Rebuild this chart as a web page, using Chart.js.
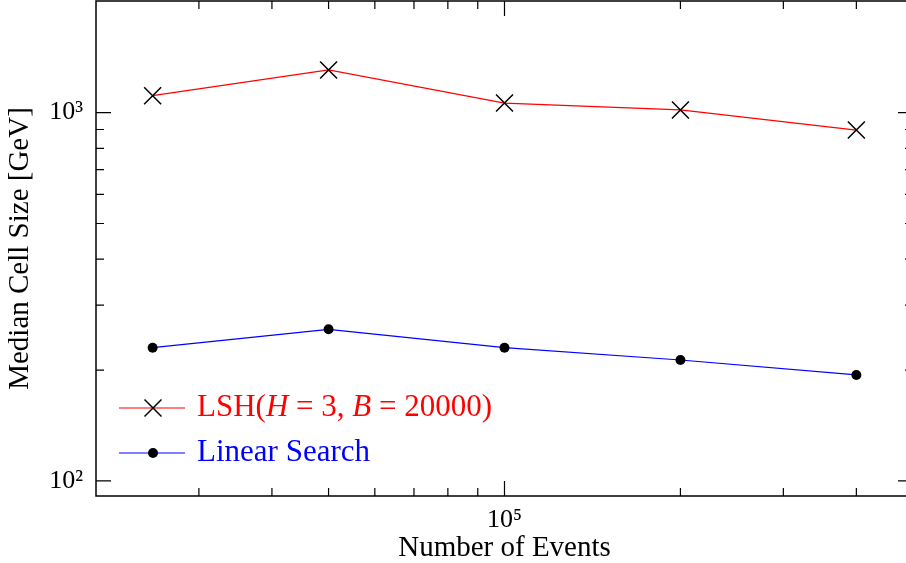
<!DOCTYPE html>
<html>
<head>
<meta charset="utf-8">
<script src="https://cdn.jsdelivr.net/npm/chart.js@4.4.0/dist/chart.umd.min.js"></script>
<style>
  html, body { margin: 0; padding: 0; overflow: hidden; background: #fff; }
  #wrap { width: 920px; height: 563px; }
</style>
</head>
<body>
<div id="wrap"><canvas id="chart" width="920" height="563"></canvas></div>
<script>
// data (log-log)
var numEvents = [25000, 50000, 100000, 200000, 400000];
var lshCellSize = [1112, 1306, 1062, 1017, 897];
var linearCellSize = [230, 258, 230, 213, 194];

var xTickValues = [30000, 40000, 50000, 60000, 70000, 80000, 90000, 100000, 200000, 300000, 400000];
var yTickValues = [100, 200, 300, 400, 500, 600, 700, 800, 900, 1000];

var serif = "'Liberation Serif', 'Times New Roman', serif";
var sup = {'0': '⁰', '1': '¹', '2': '²', '3': '³', '4': '⁴', '5': '⁵', '6': '⁶', '7': '⁷', '8': '⁸', '9': '⁹'};

function isPow10(v) {
    var l = Math.log10(v);
    return Math.abs(l - Math.round(l)) < 1e-9;
}

function tickLabel(value) {
    if (!isPow10(value)) return '';
    var e = String(Math.round(Math.log10(value)));
    return '10' + e.split('').map(function (d) { return sup[d]; }).join('');
}

function toPoints(xs, ys) {
    return xs.map(function (x, i) { return {x: x, y: ys[i]}; });
}

function noEdgePadding(scale) {
    scale.paddingTop = 0;
    scale.paddingBottom = 0;
    scale.paddingLeft = 0;
    scale.paddingRight = 0;
}

// frame with inward ticks on all four sides
var frameTicks = {
    id: 'frameTicks',
    beforeDatasetsDraw: function (chart) {
        var ctx = chart.ctx, a = chart.chartArea;
        var xs = chart.scales.x, ys = chart.scales.y;
        ctx.save();
        ctx.strokeStyle = '#000';
        ctx.lineWidth = 1.5;
        ctx.strokeRect(a.left, a.top, a.right - a.left, a.bottom - a.top);
        ctx.lineWidth = 1.2;
        ctx.beginPath();
        xTickValues.forEach(function (v) {
            var px = xs.getPixelForValue(v);
            var len = isPow10(v) ? 15 : 8;
            ctx.moveTo(px, a.bottom); ctx.lineTo(px, a.bottom - len);
            ctx.moveTo(px, a.top); ctx.lineTo(px, a.top + len);
        });
        yTickValues.forEach(function (v) {
            var py = ys.getPixelForValue(v);
            var len = isPow10(v) ? 15 : 8;
            ctx.moveTo(a.left, py); ctx.lineTo(a.left + len, py);
            ctx.moveTo(a.right, py); ctx.lineTo(a.right - len, py);
        });
        ctx.stroke();
        ctx.restore();
    }
};

// legend inside the plot, lower left
var legendRows = [
    {color: '#ff0000', marker: 'cross', y: 408,
     parts: [['LSH(', ''], ['H', 'italic '], [' = 3, ', ''], ['B', 'italic '], [' = 20000)', '']]},
    {color: '#0000ff', marker: 'dot', y: 453,
     parts: [['Linear Search', '']]}
];

var insideLegend = {
    id: 'insideLegend',
    afterDraw: function (chart) {
        var ctx = chart.ctx;
        ctx.save();
        legendRows.forEach(function (row) {
            ctx.strokeStyle = row.color;
            ctx.lineWidth = 1.2;
            ctx.beginPath();
            ctx.moveTo(119, row.y); ctx.lineTo(185, row.y);
            ctx.stroke();
            ctx.strokeStyle = '#000';
            ctx.fillStyle = '#000';
            if (row.marker === 'cross') {
                ctx.lineWidth = 1.5;
                ctx.beginPath();
                ctx.moveTo(144.5, row.y - 8.5); ctx.lineTo(161.5, row.y + 8.5);
                ctx.moveTo(144.5, row.y + 8.5); ctx.lineTo(161.5, row.y - 8.5);
                ctx.stroke();
            } else {
                ctx.beginPath();
                ctx.arc(153, row.y, 5, 0, Math.PI * 2);
                ctx.fill();
            }
            var x = 197;
            ctx.fillStyle = row.color;
            ctx.textBaseline = 'middle';
            row.parts.forEach(function (p) {
                ctx.font = p[1] + '31px ' + serif;
                ctx.fillText(p[0], x, row.y);
                x += ctx.measureText(p[0]).width;
            });
        });
        ctx.restore();
    }
};

var ctx = document.getElementById('chart').getContext('2d');
new Chart(ctx, {
    type: 'line',
    data: {
        datasets: [
            {
                label: 'LSH(H = 3, B = 20000)',
                data: toPoints(numEvents, lshCellSize),
                borderColor: '#ff0000',
                borderWidth: 1.2,
                pointStyle: 'crossRot',
                pointRadius: 12,
                pointBorderColor: '#000',
                pointBackgroundColor: '#000',
                pointBorderWidth: 1.5,
                tension: 0
            },
            {
                label: 'Linear Search',
                data: toPoints(numEvents, linearCellSize),
                borderColor: '#0000ff',
                borderWidth: 1.2,
                pointStyle: 'circle',
                pointRadius: 5,
                pointBorderColor: '#000',
                pointBackgroundColor: '#000',
                pointBorderWidth: 0,
                tension: 0
            }
        ]
    },
    options: {
        responsive: false,
        animation: false,
        devicePixelRatio: 1,
        layout: {
            autoPadding: false,
            padding: {left: 0, top: 1, right: 7, bottom: 0}
        },
        plugins: {
            legend: {display: false},
            tooltip: {enabled: false}
        },
        scales: {
            x: {
                type: 'logarithmic',
                min: 20000,
                max: 500000,
                afterBuildTicks: function (scale) {
                    scale.ticks = xTickValues.map(function (v) { return {value: v, major: isPow10(v)}; });
                },
                afterFit: function (scale) { scale.height = 67; noEdgePadding(scale); },
                grid: {drawOnChartArea: false, drawTicks: false},
                border: {display: false},
                ticks: {
                    callback: tickLabel,
                    autoSkip: false,
                    maxRotation: 0,
                    padding: 9,
                    color: '#000',
                    font: {family: serif, size: 26}
                },
                title: {
                    display: true,
                    text: 'Number of Events',
                    color: '#000',
                    font: {family: serif, size: 29, lineHeight: 1},
                    padding: 0
                }
            },
            y: {
                type: 'logarithmic',
                min: 91,
                max: 2010,
                afterBuildTicks: function (scale) {
                    scale.ticks = yTickValues.map(function (v) { return {value: v, major: isPow10(v)}; });
                },
                afterFit: function (scale) { scale.width = 96; noEdgePadding(scale); },
                grid: {drawOnChartArea: false, drawTicks: false},
                border: {display: false},
                ticks: {
                    callback: tickLabel,
                    autoSkip: false,
                    padding: 13,
                    color: '#000',
                    font: {family: serif, size: 26}
                },
                title: {
                    display: true,
                    text: 'Median Cell Size [GeV]',
                    color: '#000',
                    font: {family: serif, size: 29, lineHeight: 1},
                    padding: {top: 6, bottom: 0}
                }
            }
        }
    },
    plugins: [frameTicks, insideLegend]
});
</script>
</body>
</html>
